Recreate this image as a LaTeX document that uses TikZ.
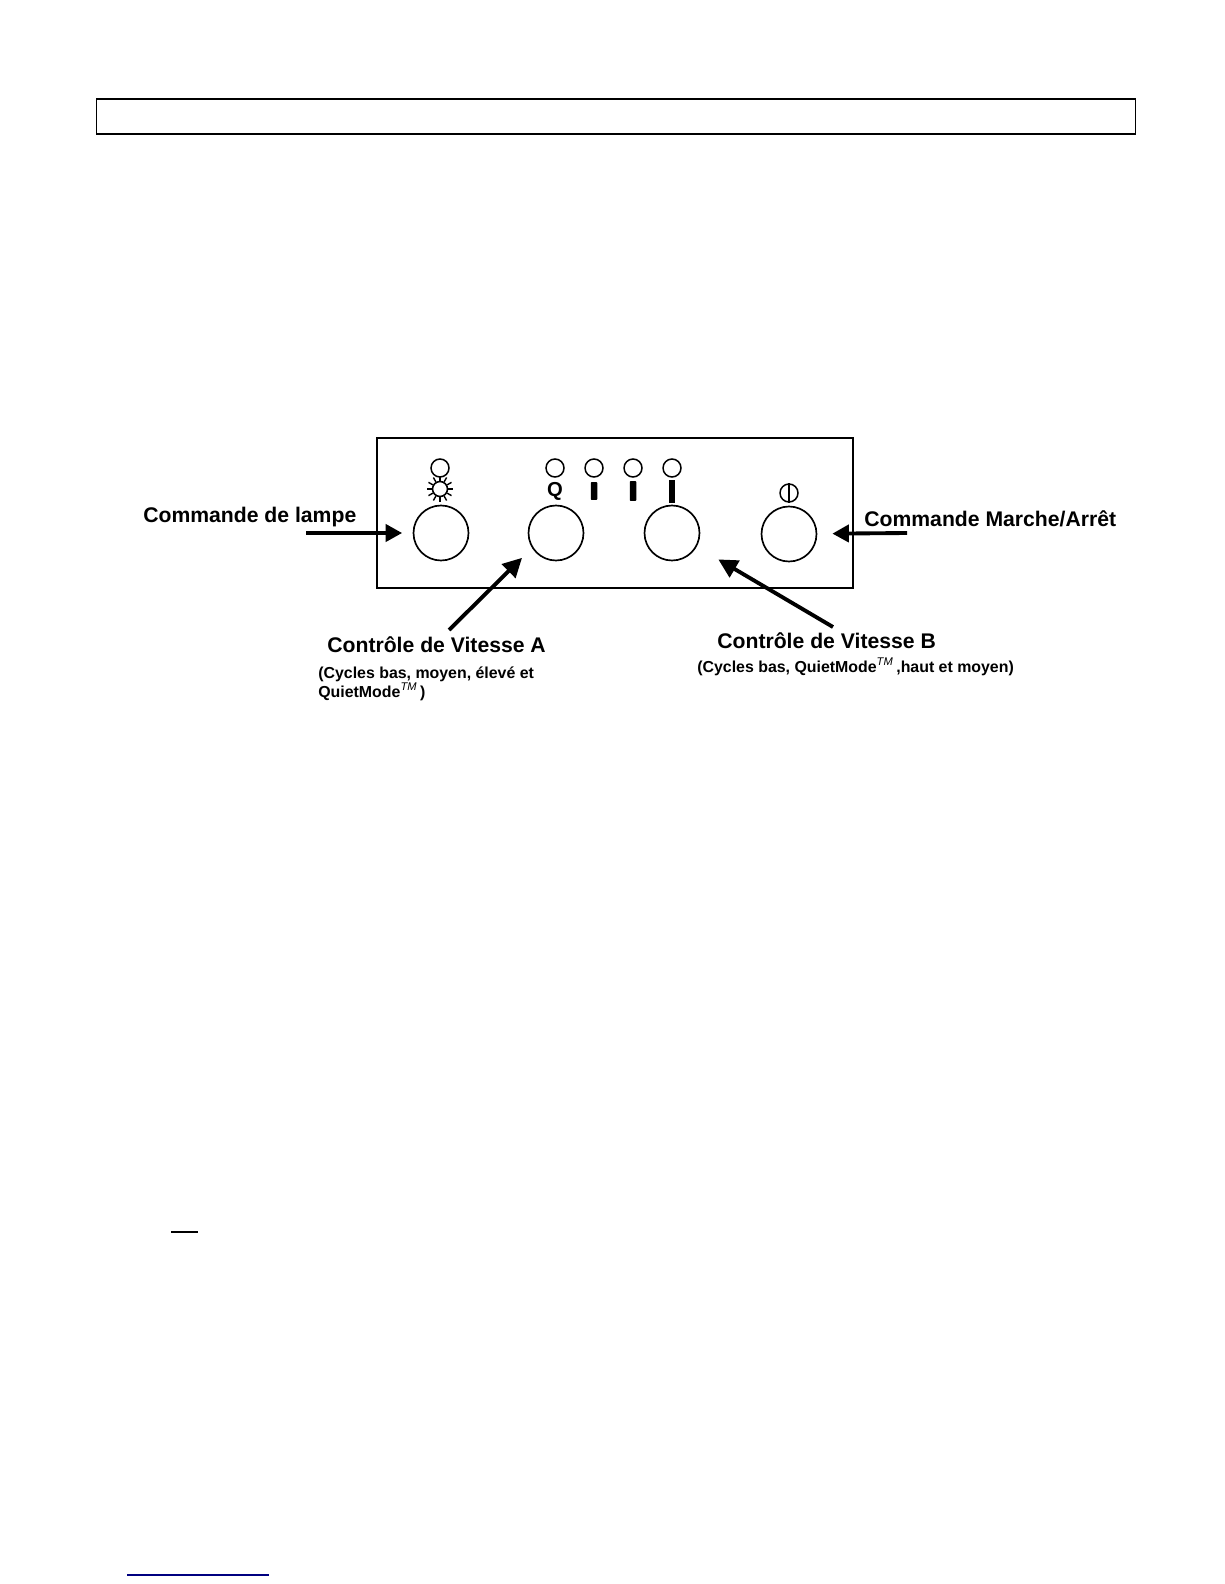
\documentclass[tikz,border=0pt]{standalone}
\usepackage{fontspec}
\setmainfont{Liberation Sans}
\usetikzlibrary{arrows.meta, positioning, calc}

\begin{document}
\begin{tikzpicture}[
    x=0.02cm, y=-0.02cm,
    knob/.style={draw, circle, inner sep=0pt, minimum size=1.1cm, line width=0.95pt},
    led/.style={draw, circle, inner sep=0pt, minimum size=0.36cm, line width=0.85pt},
    bar/.style={fill=black, inner sep=0pt, minimum width=0.13cm, rounded corners=0.5pt},
    arr/.style={-{Triangle[length=0.33cm, width=0.34cm]}, line width=2.2pt},
    slant/.style={-{Triangle[length=0.38cm, width=0.38cm]}, line width=2.2pt},
    title/.style={inner sep=0pt, anchor=base west, font=\bfseries\fontsize{12.05}{14}\selectfont},
    sub/.style={inner sep=0pt, anchor=base west, font=\bfseries\fontsize{9.05}{11}\selectfont}
  ]
    \useasboundingbox (0,0) rectangle (1224,1584);
    \fill[white] (0,0) rectangle (1224,1584);

    % header box and panel
    \node[draw, line width=0.6pt, inner sep=0pt, minimum width=20.8cm, minimum height=0.7cm] (header) at (616,116.5) {};
    \node[draw, line width=1pt, inner sep=0pt, minimum width=9.52cm, minimum height=3cm] (panel) at (615,513) {};

    % knobs
    \node[knob] (lamp) at (441,533) {};
    \node[knob] (speedA) at (556,533) {};
    \node[knob] (speedB) at (672,533) {};
    \node[knob] (onoff) at (789,534) {};

    % leds
    \node[led] (ledLamp) at (440,468) {};
    \foreach \name/\xpos in {Q/555, Low/594, Mid/633, High/672}
      \node[led] (led\name) at (\xpos,468) {};

    % symbols
    \node[draw, circle, inner sep=0pt, minimum size=0.3cm, line width=0.9pt] (sun) at (440,489) {};
    \foreach \ang in {0,30,...,330}
      \draw[line width=0.8pt] (sun.\ang) -- ++(\ang:0.1cm);
    \node[font=\bfseries\fontsize{11.5}{13}\selectfont, inner sep=0pt] (symQ) at (555,491.5) {Q};
    \node[bar, minimum height=0.36cm] (barLow) at (594,491) {};
    \node[bar, minimum height=0.4cm] (barMid) at (633,491) {};
    \node[bar, minimum height=0.46cm, rounded corners=0pt] (barHigh) at (672,491.5) {};
    \node[draw, circle, inner sep=0pt, minimum size=0.36cm, line width=0.85pt] (power) at (789,493) {};
    \draw[line width=0.85pt] (power.north) -- (power.south);

    % labels
    \node[title] (lblLamp) at (143,522) {Commande de lampe};
    \node[title] (lblPower) at (864,526) {Commande Marche/Arrêt};
    \node[title] (lblA) at (327,652) {Contrôle de Vitesse A};
    \node[title] (lblB) at (717,648) {Contrôle de Vitesse B};
    \node[sub] (subA) at (318,678) {(Cycles bas, moyen, élevé et};
    \node[sub] (subAb) at (318,697) {QuietMode\textsuperscript{\textit{\mdseries TM}}\,)};
    \node[sub] (subB) at (697,672) {(Cycles bas, QuietMode\textsuperscript{\textit{\mdseries TM}}\,,haut et moyen)};

    % arrows
    \coordinate (tailLamp) at (306,533);
    \coordinate (tailPower) at (907,533);
    \coordinate (tailA) at (449,630);
    \coordinate (tailB) at (833,627);
    \draw[arr, shorten >=0.21cm] (tailLamp) -- (lamp);
    \draw[arr, shorten >=0.3cm] (tailPower) -- (onoff);
    \draw[slant, shorten >=0.28cm] (tailA) -- (speedA.212);
    \draw[slant, shorten >=0.5cm] (tailB) -- (speedB.-29);

    % stray rules
    \coordinate (ruleL) at (171,1232);
    \coordinate (ruleR) at (198,1232);
    \coordinate (linkL) at (127,1575);
    \coordinate (linkR) at (269,1575);
    \draw[line width=1.1pt] (ruleL) -- (ruleR);
    \draw[line width=0.7pt, blue!50!black] (linkL) -- (linkR);
  \end{tikzpicture}
\end{document}
